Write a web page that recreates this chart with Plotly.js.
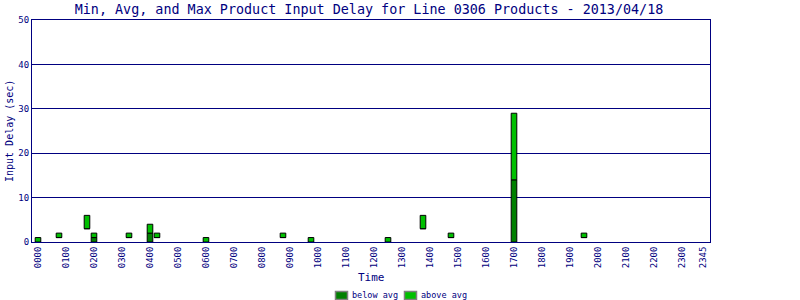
<!DOCTYPE html>
<html>
<head>
<meta charset="utf-8">
<script src="https://cdn.plot.ly/plotly-3.0.1.min.js"></script>
<style>html,body{margin:0;padding:0;background:#fff;}#chart{width:800px;height:300px;}</style>
</head>
<body>
<div id="chart"></div>
<script>
// Data
var times   = ["0000","0045","0145","0200","0315","0400","0415","0600","0845","0945","1230","1345","1445","1700","1930"];
var minVals = [0, 1, 3, 0, 1, 0, 1, 0, 1, 0, 0, 3, 1, 0, 1];
var avgVals = [0, 1, 3, 1, 1, 2, 1, 0, 1, 0, 0, 3, 1, 14, 1];
var maxVals = [1, 2, 6, 2, 2, 4, 2, 1, 2, 1, 1, 6, 2, 29, 2];
var tickLabels = ["0000","0100","0200","0300","0400","0500","0600","0700","0800","0900","1000","1100",
                  "1200","1300","1400","1500","1600","1700","1800","1900","2000","2100","2200","2300","2345"];
var seriesNames = ["below avg", "above avg"];

function toHours(s){ return parseInt(s.slice(0,2),10) + parseInt(s.slice(2),10)/60; }
var xs = times.map(toHours);
var tickVals = tickLabels.map(toHours);

var navy = "#000080";
var mono = "DejaVu Sans Mono, monospace";
var dark = "#008000", bright = "#00c000";

var below = {
  type: "bar", x: xs, base: minVals, name: seriesNames[0],
  y: avgVals.map(function(a,i){ return a - minVals[i]; }),
  width: 0.2, marker: {color: dark, line: {color: "#000", width: 1}},
  showlegend: false, hoverinfo: "skip"
};
var above = {
  type: "bar", x: xs, base: avgVals, name: seriesNames[1],
  y: maxVals.map(function(m,i){ return m - avgVals[i]; }),
  width: 0.2, marker: {color: bright, line: {color: "#000", width: 1}},
  showlegend: false, hoverinfo: "skip"
};

// pixel -> paper helpers (plot area: x 32..710, y 20..242)
function px(x){ return (x - 32) / 678; }
function py(y){ return (242 - y) / 222; }

var legendShapes = [
  {type: "rect", xref: "paper", yref: "paper", x0: px(335.5), x1: px(347.5), y0: py(291.5), y1: py(299.5),
   fillcolor: dark, line: {color: "#808080", width: 1.5}},
  {type: "rect", xref: "paper", yref: "paper", x0: px(404.5), x1: px(416.5), y0: py(291.5), y1: py(299.5),
   fillcolor: bright, line: {color: "#808080", width: 1.5}}
];

var layout = {
  width: 800, height: 300,
  margin: {l: 32, r: 90, t: 20, b: 58},
  paper_bgcolor: "#fff", plot_bgcolor: "#fff",
  barmode: "overlay",
  showlegend: false,
  font: {family: mono, color: navy, size: 9},
  title: {text: "Min, Avg, and Max Product Input Delay for Line 0306 Products - 2013/04/18",
          font: {family: mono, size: 13.4, color: navy}, x: 369/800, xanchor: "center", y: 0.97, yanchor: "middle"},
  xaxis: {
    range: [-0.214, 24], tickvals: tickVals, ticktext: tickLabels, tickangle: -90,
    showgrid: false, zeroline: false, showline: true, linecolor: navy, linewidth: 1, mirror: true,
    ticks: "", tickfont: {family: mono, size: 9, color: navy}, automargin: false
  },
  yaxis: {
    range: [0, 50], tickvals: [0,10,20,30,40,50], showgrid: true, gridcolor: navy, gridwidth: 1,
    zeroline: false, showline: true, linecolor: navy, linewidth: 1, mirror: true,
    ticks: "", tickfont: {family: mono, size: 9, color: navy}, automargin: false
  },
  shapes: legendShapes,
  annotations: [
    {text: "Time", xref: "paper", yref: "paper", x: 0.5, y: py(277), xanchor: "center", yanchor: "middle",
     showarrow: false, font: {family: mono, size: 11, color: navy}},
    {text: "Input Delay (sec)", xref: "paper", yref: "paper", x: px(9), y: py(131), xanchor: "center", yanchor: "middle",
     textangle: -90, showarrow: false, font: {family: mono, size: 10, color: navy}},
    {text: seriesNames[0], xref: "paper", yref: "paper", x: px(350), y: py(295), xanchor: "left", yanchor: "middle",
     showarrow: false, font: {family: mono, size: 8.5, color: navy}},
    {text: seriesNames[1], xref: "paper", yref: "paper", x: px(419), y: py(295), xanchor: "left", yanchor: "middle",
     showarrow: false, font: {family: mono, size: 8.5, color: navy}}
  ]
};

Plotly.newPlot("chart", [below, above], layout, {displayModeBar: false, staticPlot: true});
</script>
</body>
</html>
